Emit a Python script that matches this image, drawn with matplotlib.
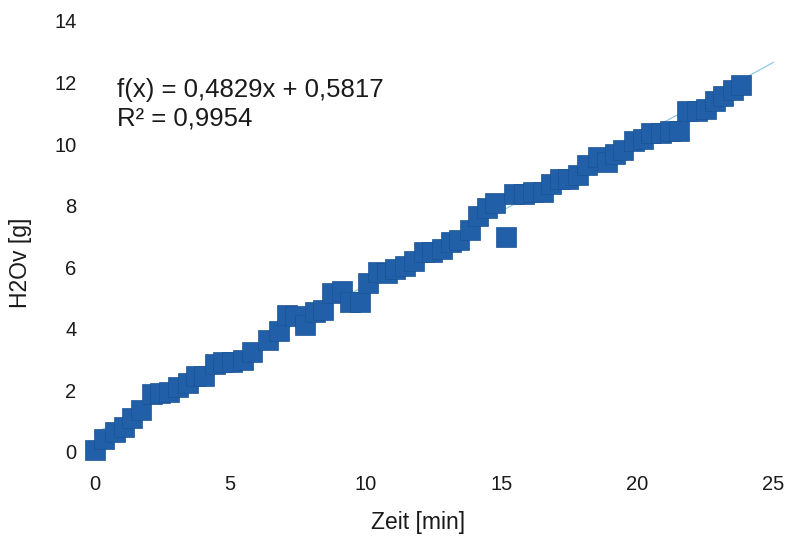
import matplotlib

matplotlib.use("Agg")
import matplotlib.pyplot as plt
import numpy as np

plt.rcParams["font.family"] = ["Liberation Sans", "DejaVu Sans"]

# measured points (time in min, water vapour in g)
zeit = [0.03, 0.34, 0.75, 1.07, 1.38, 1.70, 2.10, 2.41, 2.75, 3.09,
        3.43, 3.73, 4.04, 4.45, 4.72, 5.08, 5.46, 5.79, 6.39, 6.80,
        7.09, 7.38, 7.75, 8.12, 8.43, 8.73, 9.12, 9.41, 9.76, 10.06,
        10.44, 10.77, 11.08, 11.45, 11.76, 12.12, 12.44, 12.79, 13.12, 13.43,
        13.82, 14.14, 14.45, 14.75, 15.17, 15.46, 15.81, 16.14, 16.50, 16.82,
        17.13, 17.44, 17.80, 18.15, 18.55, 18.86, 19.17, 19.47, 19.88, 20.19,
        20.50, 20.87, 21.20, 21.51, 21.82, 22.19, 22.53, 22.84, 23.15, 23.52,
        23.82]
h2o = [0.07, 0.40, 0.65, 0.80, 1.09, 1.35, 1.88, 1.90, 1.95, 2.10,
       2.24, 2.47, 2.47, 2.86, 2.90, 2.90, 2.99, 3.25, 3.63, 3.93,
       4.45, 4.40, 4.12, 4.54, 4.60, 5.16, 5.23, 4.87, 4.87, 5.47,
       5.84, 5.80, 5.93, 6.04, 6.20, 6.50, 6.50, 6.60, 6.80, 6.88,
       7.20, 7.65, 7.92, 8.10, 6.98, 8.38, 8.38, 8.44, 8.44, 8.70,
       8.86, 8.86, 8.98, 9.32, 9.58, 9.42, 9.68, 9.80, 10.10, 10.16,
       10.36, 10.36, 10.44, 10.44, 11.07, 11.07, 11.14, 11.40, 11.57, 11.75,
       11.93]

slope, intercept = 0.4829, 0.5817
r2 = 0.9954

fig = plt.figure(figsize=(7.9, 5.44), dpi=100)
ax = fig.add_axes([0.1196, 0.1697, 0.8593, 0.7917])

xl = np.array([0, 25])
ax.plot(xl, slope * xl + intercept, color="#8fc8e6", lw=0.9, zorder=1, clip_on=False)
ax.plot(zeit, h2o, ls="none", marker="s", ms=14.2, color="#2160a8",
        mec="#1b5393", mew=0.5, zorder=2, clip_on=False)

ax.set_xlim(0, 25)
ax.set_ylim(0, 14)
ax.set_xticks(range(0, 26, 5))
ax.set_yticks(range(0, 15, 2))
for s in ax.spines.values():
    s.set_visible(False)
ax.tick_params(axis="both", length=0, labelsize=14.5, colors="#1a1a1a")
ax.tick_params(axis="x", pad=17)
ax.tick_params(axis="y", pad=13)

ax.text(0.83, 11.76, "f(x) = 0,4829x + 0,5817", fontsize=18.5,
        va="center", ha="left", color="#1a1a1a")
ax.text(0.83, 10.82, "R² = 0,9954", fontsize=18.5,
        va="center", ha="left", color="#1a1a1a")

fig.text(21 / 790, 1 - 263 / 544, "H2Ov [g]", rotation=90, ha="center",
         va="center", fontsize=16.5, color="#1a1a1a")
fig.text(418 / 790, 1 - 523 / 544, "Zeit [min]", ha="center", va="center",
         fontsize=16.5, color="#1a1a1a")

fig.savefig("out.png", dpi=100)
plt.close(fig)
